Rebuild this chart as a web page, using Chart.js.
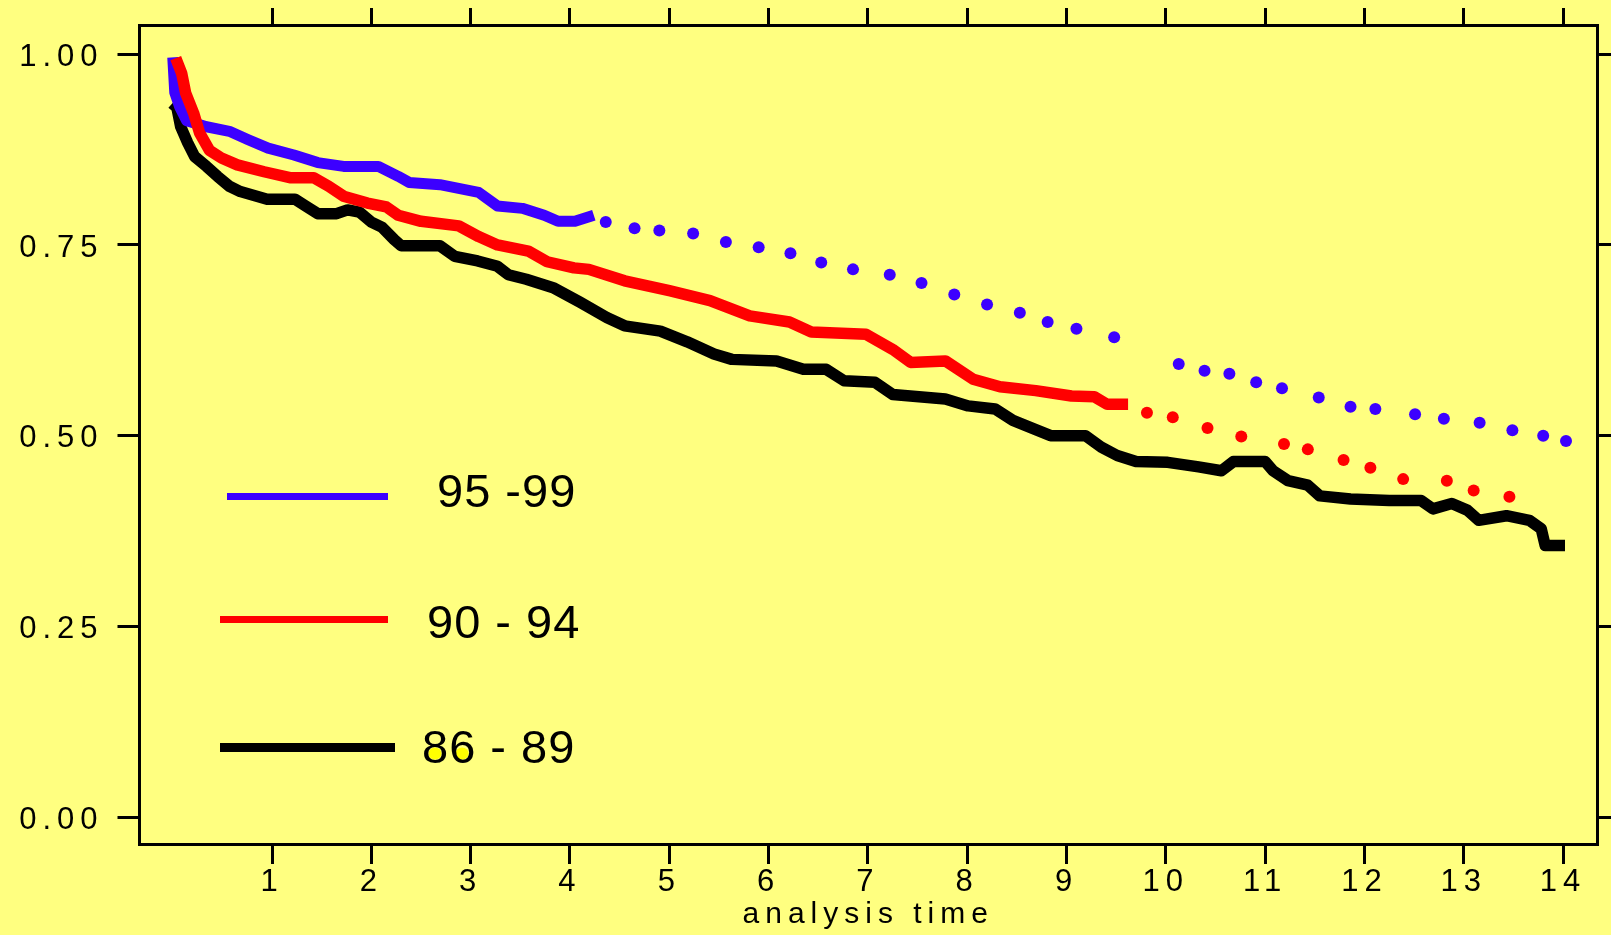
<!DOCTYPE html>
<html>
<head>
<meta charset="utf-8">
<script src="https://cdn.jsdelivr.net/npm/chart.js@4.4.1/dist/chart.umd.min.js"></script>
<style>
  html, body { margin: 0; padding: 0; background: #ffff80; overflow: hidden; }
  #wrap { width: 1611px; height: 935px; }
</style>
</head>
<body>
<div id="wrap"><canvas id="km" width="1611" height="935"></canvas></div>
<script>
// survival curves (t = analysis time, s = survival)
const blueLineT = [0, 0.02, 0.07, 0.14, 0.34, 0.57, 0.76, 0.96, 1.22, 1.46, 1.72, 2.07, 2.27, 2.38, 2.69, 3.08, 3.27, 3.52, 3.74, 3.88, 4.05, 4.24];
const blueLineS = [0.996, 0.95, 0.931, 0.913, 0.905, 0.899, 0.888, 0.877, 0.868, 0.858, 0.853, 0.853, 0.840, 0.832, 0.829, 0.819, 0.801, 0.798, 0.789, 0.781, 0.781, 0.789];
const blueDotT = [4.36, 4.65, 4.90, 5.24, 5.57, 5.90, 6.22, 6.53, 6.85, 7.22, 7.54, 7.87, 8.20, 8.53, 8.81, 9.10, 9.48, 10.13, 10.39, 10.64, 10.91, 11.17, 11.54, 11.86, 12.11, 12.51, 12.80, 13.16, 13.49, 13.80, 14.03];
const blueDotS = [0.780, 0.772, 0.769, 0.765, 0.754, 0.747, 0.739, 0.727, 0.718, 0.711, 0.700, 0.685, 0.672, 0.661, 0.649, 0.640, 0.629, 0.594, 0.585, 0.581, 0.570, 0.562, 0.550, 0.538, 0.535, 0.528, 0.522, 0.517, 0.507, 0.500, 0.493];

const redLineT = [0.03, 0.09, 0.13, 0.21, 0.27, 0.37, 0.49, 0.65, 0.92, 1.19, 1.42, 1.57, 1.72, 1.96, 2.15, 2.27, 2.50, 2.88, 3.08, 3.27, 3.58, 3.77, 4.04, 4.19, 4.55, 5.00, 5.41, 5.81, 6.21, 6.43, 6.98, 7.25, 7.43, 7.78, 8.06, 8.33, 8.69, 9.05, 9.28, 9.41, 9.62];
const redLineS = [0.995, 0.975, 0.949, 0.923, 0.897, 0.874, 0.864, 0.855, 0.846, 0.838, 0.838, 0.827, 0.814, 0.805, 0.800, 0.789, 0.781, 0.775, 0.761, 0.750, 0.742, 0.728, 0.720, 0.718, 0.703, 0.690, 0.677, 0.657, 0.649, 0.636, 0.633, 0.613, 0.596, 0.598, 0.574, 0.564, 0.559, 0.552, 0.551, 0.541, 0.541];
const redDotT = [9.81, 10.07, 10.42, 10.76, 11.19, 11.43, 11.79, 12.06, 12.39, 12.83, 13.10, 13.46];
const redDotS = [0.530, 0.524, 0.510, 0.499, 0.489, 0.482, 0.468, 0.458, 0.443, 0.441, 0.428, 0.420];

const blackLineT = [0, 0.04, 0.08, 0.15, 0.22, 0.34, 0.45, 0.57, 0.68, 0.95, 1.23, 1.34, 1.46, 1.65, 1.76, 1.88, 2.00, 2.11, 2.23, 2.30, 2.69, 2.84, 3.07, 3.27, 3.38, 3.56, 3.83, 4.10, 4.37, 4.55, 4.91, 5.18, 5.45, 5.63, 6.08, 6.35, 6.58, 6.76, 7.07, 7.25, 7.78, 8.01, 8.28, 8.46, 8.69, 8.84, 9.19, 9.35, 9.51, 9.70, 10.02, 10.33, 10.56, 10.68, 11.00, 11.08, 11.23, 11.43, 11.55, 11.86, 12.25, 12.57, 12.69, 12.88, 13.04, 13.15, 13.43, 13.66, 13.78, 13.82, 14.02];
const blackLineS = [0.925, 0.931, 0.905, 0.884, 0.866, 0.853, 0.840, 0.827, 0.820, 0.810, 0.810, 0.801, 0.791, 0.791, 0.796, 0.793, 0.780, 0.773, 0.757, 0.749, 0.749, 0.735, 0.729, 0.722, 0.711, 0.705, 0.694, 0.675, 0.655, 0.644, 0.637, 0.623, 0.607, 0.600, 0.598, 0.587, 0.587, 0.572, 0.570, 0.554, 0.548, 0.539, 0.535, 0.520, 0.508, 0.500, 0.500, 0.485, 0.474, 0.466, 0.465, 0.459, 0.454, 0.466, 0.466, 0.454, 0.441, 0.435, 0.421, 0.417, 0.415, 0.415, 0.404, 0.411, 0.402, 0.389, 0.395, 0.389, 0.378, 0.356, 0.356];

const seriesLabels = ['95 -99', '90 - 94', '86 - 89'];
const seriesColors = ['#3c00ff', '#ff0000', '#000000'];
const xTicks = [1, 2, 3, 4, 5, 6, 7, 8, 9, 10, 11, 12, 13, 14];
const yTicks = [0, 0.25, 0.5, 0.75, 1];

const pts = (ts, ss) => ts.map((t, i) => ({ x: t, y: ss[i] }));

const X_MIN = -0.335, X_MAX = 14.342;
const Y_MIN = -0.0354, Y_MAX = 1.0384;
const tickFont = { family: 'Liberation Sans', size: 31 };

function lineSet(label, data, color, width, order) {
  return { label, data, borderColor: color, backgroundColor: color, borderWidth: width,
    pointRadius: 0, tension: 0, fill: false, borderJoinStyle: 'round', order };
}
function dotSet(label, data, color, order) {
  return { label, data, showLine: false, pointRadius: 6, pointStyle: 'circle',
    pointBackgroundColor: color, pointBorderWidth: 0, borderColor: color, order };
}

// fixed box sizes, and no extra label padding so the frame lands where it should
function fixBox(w, h) {
  return s => {
    if (w !== null) s.width = w;
    if (h !== null) s.height = h;
    s.paddingTop = 0; s.paddingBottom = 0; s.paddingLeft = 0; s.paddingRight = 0;
  };
}

// background + wide letter spacing like the old bitmap font
const bgPlugin = {
  id: 'bg',
  beforeDraw(chart) {
    const ctx = chart.ctx;
    ctx.save();
    ctx.fillStyle = '#ffff80';
    ctx.fillRect(0, 0, chart.width, chart.height);
    ctx.restore();
    ctx.letterSpacing = '6px';
  }
};

// hand placed legend inside the plot
const legendPlugin = {
  id: 'handLegend',
  afterDraw(chart) {
    const ctx = chart.ctx;
    const rows = [
      { x1: 227, x2: 388, y: 496.5, w: 7, tx: 437, base: 507 },
      { x1: 220, x2: 388, y: 619.5, w: 7, tx: 427, base: 638 },
      { x1: 220, x2: 395, y: 747.5, w: 9, tx: 422, base: 763 }
    ];
    ctx.save();
    ctx.letterSpacing = '1px';
    ctx.font = '47px "Liberation Sans"';
    ctx.textBaseline = 'alphabetic';
    ctx.textAlign = 'left';
    rows.forEach((r, i) => {
      ctx.strokeStyle = seriesColors[i];
      ctx.lineWidth = r.w;
      ctx.lineCap = 'butt';
      ctx.beginPath();
      ctx.moveTo(r.x1, r.y);
      ctx.lineTo(r.x2, r.y);
      ctx.stroke();
      if (i === 2) {
        // the "86" has its lower bowls filled yellow in the original
        const w8 = ctx.measureText('8').width;
        ctx.fillStyle = '#ffff00';
        [0, 1].forEach(k => {
          ctx.beginPath();
          ctx.ellipse(r.tx + w8 * k + 13, r.base - 9.5, 6.5, 6, 0, 0, Math.PI * 2);
          ctx.fill();
        });
      }
      ctx.fillStyle = '#000';
      ctx.fillText(seriesLabels[i], r.tx, r.base);
    });
    ctx.restore();
  }
};

const axisGrid = (len) => ({ drawOnChartArea: false, drawTicks: true, tickLength: len, color: '#000', lineWidth: 3 });
const axisBorder = { display: true, color: '#000', width: 3 };

new Chart(document.getElementById('km'), {
  type: 'line',
  data: {
    datasets: [
      lineSet(seriesLabels[1], pts(redLineT, redLineS), seriesColors[1], 11.5, 0),
      dotSet(seriesLabels[1], pts(redDotT, redDotS), seriesColors[1], 0),
      lineSet(seriesLabels[0], pts(blueLineT, blueLineS), seriesColors[0], 11, 1),
      dotSet(seriesLabels[0], pts(blueDotT, blueDotS), seriesColors[0], 1),
      lineSet(seriesLabels[2], pts(blackLineT, blackLineS), seriesColors[2], 11.5, 2)
    ]
  },
  options: {
    responsive: false,
    devicePixelRatio: 1,
    animation: false,
    layout: { padding: 0 },
    plugins: {
      legend: { display: false },
      tooltip: { enabled: false }
    },
    scales: {
      x: {
        type: 'linear', position: 'bottom', min: X_MIN, max: X_MAX,
        afterBuildTicks: s => { s.ticks = xTicks.map(v => ({ value: v })); },
        afterFit: fixBox(null, 91),
        grid: axisGrid(20),
        border: axisBorder,
        ticks: { color: '#000', font: tickFont, padding: 0, maxRotation: 0, autoSkip: false },
        title: { display: true, text: 'analysis time', color: '#000', font: { family: 'Liberation Sans', size: 30 }, padding: { top: 0, bottom: 2 } }
      },
      x2: {
        type: 'linear', position: 'top', min: X_MIN, max: X_MAX,
        afterBuildTicks: s => { s.ticks = xTicks.map(v => ({ value: v })); },
        afterFit: fixBox(null, 25),
        grid: axisGrid(17),
        border: axisBorder,
        ticks: { display: false }
      },
      y: {
        type: 'linear', position: 'left', min: Y_MIN, max: Y_MAX,
        afterBuildTicks: s => { s.ticks = yTicks.map(v => ({ value: v })); },
        afterFit: fixBox(139.5, null),
        grid: axisGrid(22),
        border: axisBorder,
        ticks: { color: '#000', font: tickFont, padding: 14, labelOffset: 3, callback: v => Number(v).toFixed(2) }
      },
      y2: {
        type: 'linear', position: 'right', min: Y_MIN, max: Y_MAX,
        afterBuildTicks: s => { s.ticks = yTicks.map(v => ({ value: v })); },
        afterFit: fixBox(14, null),
        grid: axisGrid(14),
        border: axisBorder,
        ticks: { display: false }
      }
    }
  },
  plugins: [bgPlugin, legendPlugin]
});
</script>
</body>
</html>
